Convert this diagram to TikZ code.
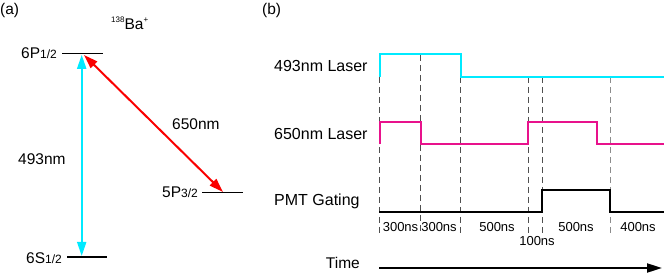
\documentclass[tikz,border=0pt]{standalone}
\usepackage{fontspec}
\setmainfont{Liberation Sans}
\usetikzlibrary{arrows.meta}
\definecolor{cyanline}{RGB}{0,234,255}
\definecolor{redline}{RGB}{250,0,0}
\definecolor{magline}{RGB}{232,18,140}
\definecolor{dashgray}{RGB}{80,80,80}
\newcommand{\sml}[1]{{\fontsize{12}{14}\selectfont #1}}
\begin{document}
\begin{tikzpicture}[x=1pt,y=-1pt,
  lbl/.style={inner sep=0pt,font=\fontsize{15.5}{18}\selectfont},
  siglbl/.style={inner sep=0pt,font=\fontsize{16}{19}\selectfont,anchor=base west},
  nslbl/.style={inner sep=0pt,font=\fontsize{13}{15}\selectfont,anchor=base},
  level/.style={line width=1.5pt,black},
  trans/.style={line width=2pt,{Triangle[length=14pt,width=9pt]}-{Triangle[length=14pt,width=9pt]}},
  sig/.style={line width=2pt,line join=miter},
  dsh/.style={line width=1pt,dashgray,dash pattern=on 6pt off 4pt}]
\useasboundingbox (0,0) rectangle (664,275);
% ---------- panel (a)
\node[lbl,anchor=base west] (la) at (0,15) {(a)};
\node[lbl,anchor=base west] (ba) at (111,30) {\raisebox{7pt}{\fontsize{8}{9}\selectfont 138}Ba\raisebox{7pt}{\fontsize{8}{9}\selectfont +}};
% levels
\coordinate (p1) at (62,53.7); \coordinate (p2) at (103,53.7);
\coordinate (s1) at (67,257); \coordinate (s2) at (107,257);
\coordinate (q1) at (202,192.7); \coordinate (q2) at (243,192.7);
\draw[level] (p1) -- (p2);
\draw[level] (s1) -- (s2);
\draw[level] (q1) -- (q2);
\node[lbl,anchor=base east] (l6p) at (57,59) {6P\sml{1/2}};
\node[lbl,anchor=base east] (l6s) at (62,263) {6S\sml{1/2}};
\node[lbl,anchor=base east] (l5p) at (198,198) {5P\sml{3/2}};
% transitions
\coordinate (cyT) at (81.7,54.8); \coordinate (cyB) at (81.7,256);
\coordinate (rdT) at (84,55); \coordinate (rdB) at (223,192);
\draw[trans,cyanline] (cyT) -- (cyB);
\draw[trans,redline] (rdT) -- (rdB);
\node[lbl,anchor=base west] (w650) at (172,130) {650nm};
\node[lbl,anchor=base west] (w493) at (18,165) {493nm};
% ---------- panel (b)
\node[lbl,anchor=base west] (lb) at (262,15) {(b)};
\node[siglbl] (n493) at (274,72) {493nm Laser};
\node[siglbl] (n650) at (274,140) {650nm Laser};
\node[siglbl] (npmt) at (274,206) {PMT Gating};
\node[lbl,anchor=base east] (ntime) at (360,269) {Time};
% dashed markers
\draw[dsh] (379.5,77) -- (379.5,234);
\draw[dsh] (420.5,55) -- (420.5,234);
\draw[dsh] (460.5,77) -- (460.5,234);
\draw[dsh] (528,77) -- (528,234);
\draw[dsh] (542,77) -- (542,234);
\draw[dsh,black!45] (610,77) -- (610,234);
% signals
\draw[sig,cyanline] (380,77) -- (380,54) -- (460.5,54) -- (460.5,77) -- (664,77);
\draw[sig,magline] (380,144.5) -- (380,122) -- (420.5,122) -- (420.5,144.5) -- (528,144.5) -- (528,122) -- (597,122) -- (597,144.5) -- (664,144.5);
\draw[sig,black] (379,212) -- (542,212) -- (542,190) -- (610,190) -- (610,212) -- (664,212);
% durations
\node[nslbl] (d1) at (400.5,232) {300ns};
\node[nslbl] (d2) at (439,232) {300ns};
\node[nslbl] (d3) at (497,232) {500ns};
\node[nslbl] (d4) at (537,246) {100ns};
\node[nslbl] (d5) at (576,232) {500ns};
\node[nslbl] (d6) at (638,232) {400ns};
% time arrow
\coordinate (t0) at (379,268); \coordinate (t1) at (662,268);
\draw[line width=2pt,-{Triangle[length=15pt,width=9pt]}] (t0) -- (t1);
\end{tikzpicture}
\end{document}
